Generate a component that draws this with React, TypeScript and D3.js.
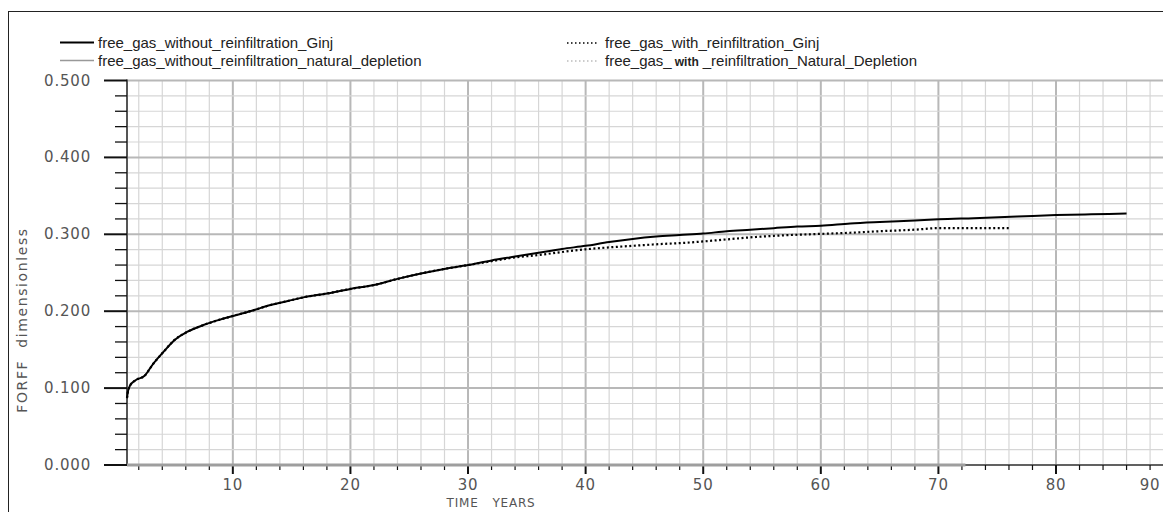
import React from 'react';
import * as d3 from 'd3';

// FORFF vs time
const ginjYears = [1.0, 1.05, 1.25, 1.7, 2.5, 3.2, 4.1, 5.0, 6.1, 7.5, 8.9, 10.3, 11.7, 13.2, 14.6, 16, 18, 20, 22, 24, 26, 28, 30];
const ginjValues = [0.087, 0.093, 0.103, 0.110, 0.116, 0.131, 0.147, 0.162, 0.173, 0.182, 0.189, 0.195, 0.201, 0.208, 0.213, 0.218, 0.223, 0.229, 0.234, 0.242, 0.249, 0.255, 0.260];

const withoutTailYears = [32, 34, 36, 38, 40, 42, 44, 46, 48, 50, 52, 54, 56, 58, 60, 62.5, 65, 68, 70, 73, 76.7, 80, 83, 86];
const withoutTailValues = [0.266, 0.271, 0.276, 0.281, 0.285, 0.290, 0.294, 0.297, 0.299, 0.301, 0.304, 0.306, 0.308, 0.310, 0.311, 0.314, 0.316, 0.318, 0.3195, 0.321, 0.323, 0.325, 0.326, 0.327];

const withTailYears = [32, 34, 36, 38, 40, 42, 44, 46, 48.5, 51, 54, 56, 59, 62.5, 65, 68, 70, 72, 76];
const withTailValues = [0.265, 0.270, 0.273, 0.277, 0.2805, 0.283, 0.285, 0.287, 0.289, 0.292, 0.296, 0.298, 0.300, 0.302, 0.304, 0.306, 0.308, 0.308, 0.308];

const depletionYears = [1, 10, 20, 30, 40, 50, 60, 70, 72.3];
const depletionValues = [0, 0, 0, 0, 0, 0, 0, 0, 0];

const xMajor = [10, 20, 30, 40, 50, 60, 70, 80, 90];
const yMajor = [0, 0.1, 0.2, 0.3, 0.4, 0.5];

const W = 1163;
const H = 512;

const x = d3.scaleLinear().domain([1, 90]).range([127, 1173.6]);
const y = d3.scaleLinear().domain([0, 0.5]).range([465, 80.5]);

const zip = (xs: number[], vs: number[]) => xs.map((t, i) => [t, vs[i]] as [number, number]);

const withoutGinj = zip(ginjYears.concat(withoutTailYears), ginjValues.concat(withoutTailValues));
const withGinj = zip(ginjYears.concat(withTailYears), ginjValues.concat(withTailValues));
const depletion = zip(depletionYears, depletionValues);

const line = d3.line<[number, number]>()
  .x(d => x(d[0]))
  .y(d => y(d[1]))
  .curve(d3.curveMonotoneX);

const tickFont = '"DejaVu Sans", sans-serif';
const legendFont = '"Liberation Sans", Arial, sans-serif';

export default function App() {
  const minorX = d3.range(2, 91, 2);
  const minorY = d3.range(0, 0.5001, 0.02);

  return (
    <svg width={W} height={H} style={{ position: 'absolute', left: 0, top: 0, background: '#fff' }}>
      <rect x={8.5} y={11.5} width={1160} height={510} fill="none" stroke="#222" strokeWidth={1} />

      {/* legend */}
      <line x1={60} x2={94} y1={42.5} y2={42.5} stroke="#000" strokeWidth={2} />
      <text x={98} y={48} fontFamily={legendFont} fontSize={15} fill="#222">free_gas_without_reinfiltration_Ginj</text>
      <line x1={60} x2={94} y1={60.5} y2={60.5} stroke="#999" strokeWidth={1.5} />
      <text x={98} y={66} fontFamily={legendFont} fontSize={15} fill="#222">free_gas_without_reinfiltration_natural_depletion</text>
      <line x1={567} x2={598} y1={43} y2={43} stroke="#000" strokeWidth={1.5} strokeDasharray="1.5,2.5" />
      <text x={605} y={48} fontFamily={legendFont} fontSize={15} fill="#222">free_gas_with_reinfiltration_Ginj</text>
      <line x1={567} x2={598} y1={61} y2={61} stroke="#999" strokeWidth={1.2} strokeDasharray="1.5,2.5" />
      <text x={605} y={66} fontFamily={legendFont} fontSize={15} fill="#222">
        free_gas_<tspan fontSize={12} fontWeight="bold" dx={3}>with</tspan><tspan dx={4}>_reinfiltration_Natural_Depletion</tspan>
      </text>

      {/* grid */}
      <g>
        {minorX.map(t => (
          <line key={'gx' + t} x1={x(t)} x2={x(t)} y1={y(0.5)} y2={y(0)}
            stroke={t % 10 === 0 ? '#b8b8b8' : '#d6d6d6'} strokeWidth={t % 10 === 0 ? 2 : 1.2} />
        ))}
        {minorY.map((v, i) => (
          <line key={'gy' + i} x1={x(1)} x2={W} y1={y(v)} y2={y(v)}
            stroke={i % 5 === 0 ? '#b8b8b8' : '#d6d6d6'} strokeWidth={i % 5 === 0 ? 2 : 1.2} />
        ))}
      </g>

      {/* y axis */}
      <line x1={x(1)} x2={x(1)} y1={y(0.5) - 1} y2={y(0) + 1} stroke="#555" strokeWidth={2} />
      {minorY.map((v, i) => (
        <line key={'ty' + i} x1={i % 5 === 0 ? 104 : 115} x2={x(1)} y1={y(v)} y2={y(v)}
          stroke="#111" strokeWidth={i % 5 === 0 ? 2 : 1.3} />
      ))}
      {yMajor.map(v => (
        <text key={'ly' + v} x={91} y={y(v) + 5} textAnchor="end" fontFamily={tickFont} fontSize={15}
          letterSpacing={0.8} fill="#555">{d3.format('.3f')(v)}</text>
      ))}
      <text transform="translate(27,320) rotate(-90)" textAnchor="middle" fontFamily={tickFont} fontSize={14}
        letterSpacing={1.6} fill="#555" style={{ whiteSpace: 'pre' }}>{'FORFF  dimensionless'}</text>

      {/* x axis */}
      <line x1={x(1)} x2={W} y1={y(0)} y2={y(0)} stroke="#444" strokeWidth={1.5} />
      {minorX.map(t => (
        <line key={'tx' + t} x1={x(t)} x2={x(t)} y1={y(0)} y2={y(0) + (t % 10 === 0 ? 9 : 5)}
          stroke="#111" strokeWidth={t % 10 === 0 ? 2 : 1.2} />
      ))}
      {xMajor.map(t => (
        <text key={'lx' + t} x={Math.min(x(t), 1150)} y={y(0) + 25} textAnchor="middle" fontFamily={tickFont}
          fontSize={15} letterSpacing={0.8} fill="#555">{t}</text>
      ))}
      <text x={491} y={507} textAnchor="middle" fontFamily={tickFont} fontSize={12} letterSpacing={0.8}
        fill="#555" style={{ whiteSpace: 'pre' }}>{'TIME   YEARS'}</text>

      {/* series */}
      <path d={line(depletion) ?? ''} fill="none" stroke="#9e9e9e" strokeWidth={3} />
      <path d={line(withGinj) ?? ''} fill="none" stroke="#000" strokeWidth={2.2} strokeDasharray="2,2.5" />
      <path d={line(withoutGinj) ?? ''} fill="none" stroke="#000" strokeWidth={2} />
    </svg>
  );
}
